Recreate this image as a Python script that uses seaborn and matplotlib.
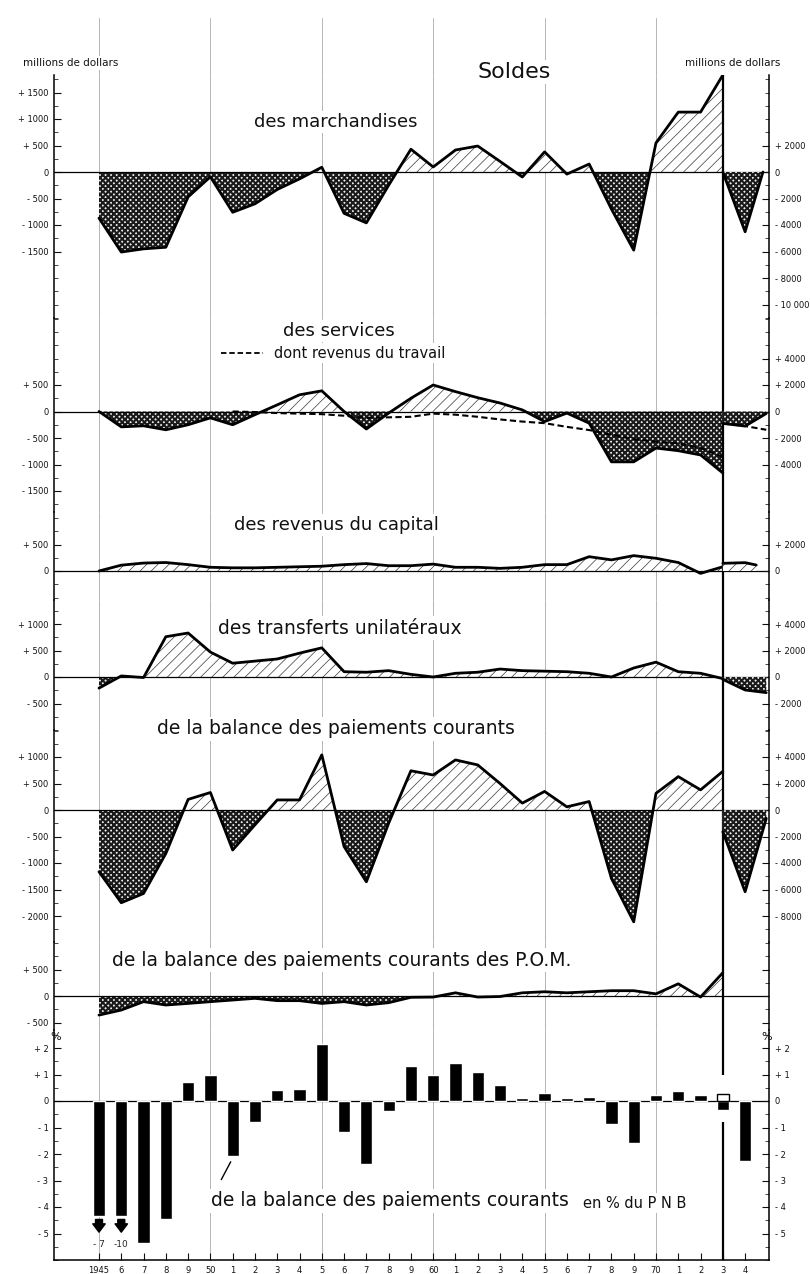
import numpy as np
import matplotlib
matplotlib.use("Agg")
import matplotlib.pyplot as plt
from matplotlib.lines import Line2D
from matplotlib.ticker import FixedLocator, NullFormatter
import seaborn as sns

# ---------------- data (millions de dollars) ----------------
years = list(range(1945, 1974))
marchandises = [-870, -1510, -1450, -1420, -470, -90, -760, -600, -330, -130, 90, -780, -960, -250,
                430, 95, 415, 490, 200, -95, 380, -40, 150, -700, -1475, 550, 1130, 1130, 1830]
services = [0, -290, -270, -345, -250, -120, -250, -60, 125, 315, 390, 0, -330, -30,
            250, 500, 375, 260, 160, 30, -190, -30, -220, -950, -950, -690, -740, -820, -1160]
travail_years = list(range(1951, 1974))
travail = [0, -10, -30, -40, -50, -80, -120, -110, -100, -40, -60, -100, -150, -190,
           -220, -290, -350, -440, -520, -570, -600, -690, -860]
capital = [0, 110, 150, 160, 120, 70, 60, 60, 70, 80, 90, 120, 140, 100, 100,
           130, 70, 70, 50, 70, 120, 120, 270, 210, 290, 240, 160, -45, 80]
transferts = [-210, 20, -10, 760, 830, 470, 260, 300, 340, 450, 550, 100, 90, 120, 50,
              0, 70, 90, 150, 120, 110, 100, 70, 0, 170, 280, 100, 70, -30]
courants = [-1165, -1750, -1575, -820, 200, 330, -755, -280, 190, 190, 1040, -690, -1355, -250,
            740, 660, 945, 850, 500, 130, 350, 60, 160, -1290, -2110, 315, 630, 380, 730]
pom = [-360, -265, -107, -170, -140, -107, -76, -44, -88, -88, -140, -107, -170, -126, -25,
       -20, 60, -20, -10, 60, 80, 60, 80, 100, 100, 40, 230, -20, 440]

# after 1973 (right-hand scale)
march_post_x = [1973, 1974, 1974.8]
march_post = [0, -4510, 0]
serv_post_x = [1973, 1974, 1974.95]
serv_post = [-900, -1100, -150]
trav_post = [-900, -1100, -1380]
cap_post_x = [1973, 1974, 1974.5]
cap_post = [580, 630, 450]
trans_post_x = [1973, 1974, 1974.95]
trans_post = [-180, -980, -1180]
cour_post_x = [1973, 1974, 1974.95]
cour_post = [-1640, -6170, -630]

# balance courante en % du PNB
pct_years = list(range(1945, 1975))
pct_pnb = [-7, -10, -5.37, -4.47, 0.72, 1.0, -2.08, -0.79, 0.41, 0.44, 2.14, -1.16, -2.36, -0.38,
           1.32, 0.97, 1.45, 1.1, 0.59, 0.11, 0.3, 0.11, 0.15, -0.88, -1.58, 0.21, 0.38, 0.21, -0.35, -2.26]
pct_1973_alt = 0.28
pct_cut = -4.35   # bars beyond the axis are drawn broken at this level

xlabels = ["1945", "6", "7", "8", "9", "50", "1", "2", "3", "4", "5", "6", "7", "8", "9",
           "60", "1", "2", "3", "4", "5", "6", "7", "8", "9", "70", "1", "2", "3", "4"]

# ---------------- style ----------------
sns.set_theme(style="white")
plt.rcParams["font.family"] = ["DejaVu Sans"]
plt.rcParams["hatch.linewidth"] = 0.6

W, H = 810, 1274
fig = plt.figure(figsize=(W / 100, H / 100), dpi=100)
fig.patch.set_facecolor("white")

X0, X1 = 54, 769
YR0_PX, PX_YR = 99, 22.28
XLIM = (1945 - (YR0_PX - X0) / PX_YR, 1945 + (X1 - YR0_PX) / PX_YR)
K = 26.5 / 500.0   # px per million
GRID_YEARS = list(range(1945, 1971, 5))


def fmt(v):
    if v == 0:
        return "0"
    s = "+" if v > 0 else "-"
    a = abs(v)
    t = f"{a:,}".replace(",", " ") if a >= 10000 else f"{a:g}"
    return f"{s} {t}"


# top strip: vertical reference lines run up to the top of the sheet
axt = fig.add_axes([X0 / W, 1 - 75 / H, (X1 - X0) / W, 57 / H])
axt.set_xlim(XLIM)
axt.set_ylim(0, 1)
axt.axis("off")
for yr in GRID_YEARS:
    axt.axvline(yr, color="#a0a0a0", lw=0.55, zorder=0)


def panel(top, zero, bottom, k, lticks, rticks, rfac=4.0, lstep=250, rstep=1000, rlabels=True):
    ax = fig.add_axes([X0 / W, 1 - bottom / H, (X1 - X0) / W, (bottom - top) / H])
    ylo, yhi = -(bottom - zero) / k, (zero - top) / k
    ax.set_facecolor("none")
    ax2 = ax.twinx()
    for a, lo, hi in ((ax, ylo, yhi), (ax2, ylo * rfac, yhi * rfac)):
        a.set_xlim(XLIM)
        a.set_ylim(lo, hi)
        for s in ("top", "bottom"):
            a.spines[s].set_visible(False)
        a.tick_params(axis="x", bottom=False, labelbottom=False)
    ax.spines["right"].set_visible(False)
    ax.spines["left"].set_color("black")
    ax.spines["left"].set_linewidth(1.1)
    ax2.spines["left"].set_visible(False)
    ax2.spines["right"].set_color("black")
    ax2.spines["right"].set_linewidth(1.1)
    # left ticks
    ax.yaxis.set_major_locator(FixedLocator(lticks))
    ax.set_yticklabels([fmt(v) for v in lticks])
    ax.yaxis.set_minor_locator(FixedLocator(np.arange(np.ceil(ylo / lstep) * lstep, yhi, lstep)))
    ax.tick_params(axis="y", which="major", direction="in", length=5, width=0.8, labelsize=6,
                   pad=4, left=True, colors="#111111")
    ax.tick_params(axis="y", which="minor", direction="in", length=3, width=0.6, left=True)
    # right ticks
    ax2.yaxis.set_major_locator(FixedLocator(rticks))
    if rlabels:
        ax2.set_yticklabels([fmt(v) for v in rticks])
    else:
        ax2.yaxis.set_major_formatter(NullFormatter())
    r_lo, r_hi = ylo * rfac, yhi * rfac
    ax2.yaxis.set_minor_locator(FixedLocator(np.arange(np.ceil(r_lo / rstep) * rstep, r_hi, rstep)))
    ax2.tick_params(axis="y", which="major", direction="in", length=5, width=0.8, labelsize=6,
                    pad=4, right=True, colors="#111111")
    ax2.tick_params(axis="y", which="minor", direction="in", length=3, width=0.6, right=True)
    ax.grid(False)
    ax2.grid(False)
    # vertical reference lines
    for yr in GRID_YEARS:
        ax.axvline(yr, color="#a0a0a0", lw=0.55, zorder=0)
    ax.axhline(0, color="black", lw=0.9, zorder=2)
    return ax, ax2


def area(ax, x, y, lw=2.0):
    x = np.asarray(x, float)
    y = np.asarray(y, float)
    plt.rcParams["hatch.linewidth"] = 0.5
    p = ax.fill_between(x, 0, y, where=y >= 0, interpolate=True, facecolor="white",
                        edgecolor="#3a3a3a", hatch="///", linewidth=0, zorder=1)
    plt.rcParams["hatch.linewidth"] = 1.5
    n = ax.fill_between(x, 0, y, where=y <= 0, interpolate=True, facecolor="#eeeeee",
                        edgecolor="#1a1a1a", hatch="xxxxxx", linewidth=0, zorder=1)
    for c, w in ((p, 0.5), (n, 1.5)):
        if hasattr(c, "set_hatch_linewidth"):
            c.set_hatch_linewidth(w)
    sns.lineplot(x=x, y=y, ax=ax, color="black", linewidth=lw, estimator=None, sort=False,
                 legend=False, zorder=4)


def sep1973(ax):
    ax.axvline(1973, color="black", lw=1.6, zorder=3)


# ---- panel 1 : marchandises
ax, ax2 = panel(75, 172, 318, K, [1500, 1000, 500, 0, -500, -1000, -1500],
                [2000, 0, -2000, -4000, -6000, -8000, -10000])
area(ax, years, marchandises)
area(ax2, march_post_x, march_post)
sep1973(ax)

# ---- panel 2 : services
ax, ax2 = panel(318, 411.5, 512, K, [500, 0, -500, -1000, -1500], [4000, 2000, 0, -2000, -4000])
area(ax, years, services)
area(ax2, serv_post_x, serv_post)
sns.lineplot(x=travail_years, y=travail, ax=ax, color="black", linewidth=1.5,
             linestyle=(0, (3, 1.6)), estimator=None, sort=False, legend=False, zorder=5)
sns.lineplot(x=serv_post_x, y=trav_post, ax=ax2, color="black", linewidth=1.5,
             linestyle=(0, (3, 1.6)), estimator=None, sort=False, legend=False, zorder=5)
sep1973(ax)

# ---- panel 3 : revenus du capital
ax, ax2 = panel(512, 571, 600, K, [500, 0], [2000, 0])
area(ax, years, capital)
area(ax2, cap_post_x, cap_post)
sep1973(ax)

# ---- panel 4 : transferts unilateraux
ax, ax2 = panel(600, 677, 730, K, [1000, 500, 0, -500], [4000, 2000, 0, -2000])
area(ax, years, transferts)
area(ax2, trans_post_x, trans_post)
sep1973(ax)

# ---- panel 5 : balance des paiements courants
ax, ax2 = panel(730, 810, 942, K, [1000, 500, 0, -500, -1000, -1500, -2000],
                [4000, 2000, 0, -2000, -4000, -6000, -8000])
area(ax, years, courants)
area(ax2, cour_post_x, cour_post)
sep1973(ax)

# ---- panel 6 : P.O.M.
ax, ax2 = panel(942, 996, 1030, K, [500, 0, -500], [2000, 0, -2000], rlabels=False)
area(ax, years, pom)
sep1973(ax)

# ---- panel 7 : % du PNB
KP = 26.5
ax, ax2 = panel(1030, 1101, 1260, KP, [2, 1, 0, -1, -2, -3, -4, -5], [2, 1, 0, -1, -2, -3, -4, -5],
                rfac=1.0, lstep=0.5, rstep=0.5)
ylo7, yhi7 = ax.get_ylim()
ax.spines["bottom"].set_visible(True)
ax.spines["bottom"].set_color("black")
ax.spines["bottom"].set_linewidth(1.1)
ax.set_xticks(pct_years)
ax.set_xticklabels(xlabels)
ax.tick_params(axis="x", bottom=True, labelbottom=True, direction="in", length=5, width=0.8,
               labelsize=6, pad=4, colors="#111111")
vals = np.array(pct_pnb, float)
beyond = vals < ylo7
shown = np.where(beyond, pct_cut, vals)
BW = 0.55
ax.bar(pct_years, shown, width=BW, color="black", zorder=3)
ax.bar([1973], [pct_1973_alt], width=BW, facecolor="white", edgecolor="black", lw=1.0, zorder=3)
for yr, v, b in zip(pct_years, vals, beyond):
    if b:
        ax.annotate("", xy=(yr, pct_cut - 0.6), xytext=(yr, pct_cut - 0.12),
                    arrowprops=dict(facecolor="black", edgecolor="black", width=5,
                                    headwidth=9, headlength=6, shrink=0), zorder=4)
        ax.text(yr, pct_cut - 1.05, f"- {abs(v):g}" if abs(v) < 10 else f"-{abs(v):g}",
                ha="center", va="center", fontsize=6.5)
ax.vlines(1973, 1.0, yhi7, color="black", lw=1.6, zorder=3)
ax.vlines(1973, ylo7, -0.8, color="black", lw=1.6, zorder=3)
ax.annotate("", xy=(1950.97, -2.2), xytext=(1950.43, -3.06),
            arrowprops=dict(arrowstyle="-", color="black", lw=1.0))

# ---------------- texts ----------------
TB = dict(facecolor="white", edgecolor="none", pad=1.5)


def ftext(xp, yp, s, size, ha="center", bbox=True, **kw):
    fig.text(xp / W, 1 - yp / H, s, fontsize=size, ha=ha, va="center",
             bbox=TB if bbox else None, color="#111111", **kw)


ftext(514, 72, "Soldes", 16)
ftext(23, 63, "millions de dollars", 7.5, ha="left")
ftext(685, 63, "millions de dollars", 7.5, ha="left")
ftext(336, 122, "des marchandises", 13)
ftext(339, 331, "des services", 13)
ftext(360, 353, "dont revenus du travail", 10.5)
fig.add_artist(Line2D([221 / W, 263 / W], [1 - 353 / H, 1 - 353 / H], color="black",
                      lw=1.3, linestyle=(0, (3, 1.6))))
ftext(336, 525, "des revenus du capital", 13)
ftext(340, 628, "des transferts unilatéraux", 13.5)
ftext(336, 729, "de la balance des paiements courants", 13.5)
ftext(342, 960, "de la balance des paiements courants des P.O.M.", 13.5)
ftext(390, 1201, "de la balance des paiements courants", 13.5)
ftext(635, 1203, "en % du P N B", 10.5)
ftext(56, 1037, "%", 8, bbox=False)
ftext(767, 1037, "%", 8, bbox=False)

fig.savefig("out.png", dpi=100, facecolor="white")
